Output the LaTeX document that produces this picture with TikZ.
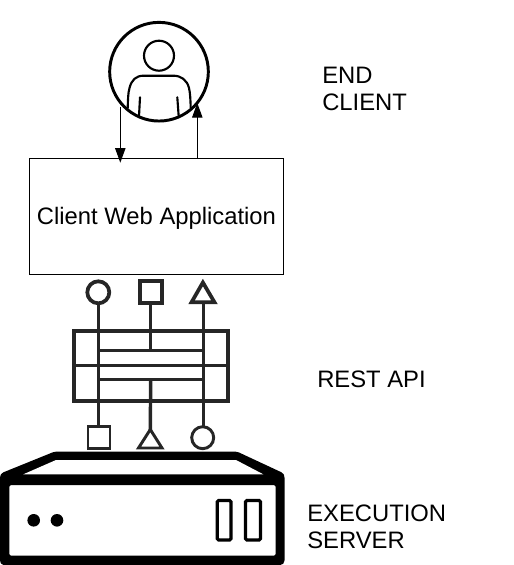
\documentclass[tikz,border=0pt]{standalone}
\usepackage{fontspec}
\setmainfont{Liberation Sans}
\usetikzlibrary{arrows.meta}
\tikzset{
  x=0.75pt,y=-0.75pt,
  label text/.style={font=\fontsize{17.85}{20.25}\selectfont,align=left,inner sep=0pt,text=black},
  person line/.style={draw=black,line width=1.6pt,line cap=round,line join=round},
  thin arrow/.style={draw=black,line width=0.75pt,-{Triangle[length=11pt,width=7.8pt]}},
  api line/.style={draw=black!85,line width=2.6pt},
  api thin/.style={draw=black!85,line width=2.2pt},
  api circle/.style={circle,draw=black!85,line width=2.8pt,fill=white,minimum size=16.5pt,inner sep=0pt},
  api square/.style={rectangle,draw=black!85,line width=2.8pt,fill=white,minimum size=16.5pt,inner sep=0pt},
  api tri/.style={draw=black!85,line width=2.8pt,fill=white,line join=miter},
  lower/.style={line width=2.2pt},
  slot/.style={draw=black,line width=2.4pt,rounded corners=1pt},
}
\begin{document}
\begin{tikzpicture}
\useasboundingbox (0,0) rectangle (514,565);
% end client
\node[circle,draw=black,line width=2.2pt,minimum size=74pt,inner sep=0pt] (client) at (159,71.7) {};
\node[circle,draw=black,line width=1.6pt,minimum size=22.5pt,inner sep=0pt] (head) at (159,55.7) {};
\draw[person line] (127.7,108) .. controls (128,100) and (128,93) .. (129.5,88) .. controls (131.5,80) and (136,75.7) .. (143.5,75.7) -- (173.5,75.7) .. controls (181,75.7) and (187,80) .. (189,88) .. controls (190.2,93) and (190.5,100) .. (190.7,108);
\draw[person line] (140,97.3) -- (139,116.5);
\draw[person line] (177.3,97.3) -- (178.7,116.5);
% web application
\node[rectangle,draw=black,line width=0.75pt,minimum width=190.5pt,minimum height=87pt,inner sep=0pt] (web) at (156.5,216.5) {};
\node[label text,anchor=base] (webtext) at (156.5,224) {Client Web Application};
\coordinate (downstart) at (120.3,107);
\coordinate (downend) at (120.3,162.7);
\coordinate (upstart) at (197.3,158.5);
\coordinate (upend) at (197.3,103);
\draw[thin arrow] (downstart) -- (downend);
\draw[thin arrow] (upstart) -- (upend);
% REST API
\coordinate (l1) at (98.3,350.8);
\coordinate (l2) at (98.3,379.5);
\coordinate (r1) at (203.3,350.8);
\coordinate (r2) at (203.3,379.5);
\coordinate (m1) at (150.7,350.8);
\coordinate (m2) at (150.7,379.5);
\node[rectangle,draw=black!85,line width=3pt,minimum width=115.5pt,minimum height=52.5pt,inner sep=0pt] (api) at (151,365.5) {};
\draw[api line] (api.west) -- (api.east);
\draw[api thin] (l1) -- (r1);
\draw[api thin] (l2) -- (r2);
\node[api circle] (c1) at (98.3,292.3) {};
\node[api square] (s1) at (150.7,292.3) {};
\draw[api tri] (191.5,302.3) -- (202.9,282.5) -- (214.5,302.3) -- cycle;
\node[api square,lower] (s2) at (99,437.7) {};
\draw[api tri,lower] (138.5,448) -- (150.3,429.5) -- (162,448) -- cycle;
\node[api circle,lower] (c2) at (202.7,437.7) {};
\draw[api line] (c1) -- (98.3,426.5);
\draw[api line] (s1) -- (m1);
\draw[api line] (m2) -- (150.3,430);
\draw[api line] (203.3,302) -- (203.3,426.5);
% server
\path[fill=black,even odd rule,rounded corners=1.2pt]
  (0,476) -- (1.7,473) -- (54.3,451.7) -- (237.3,451.7) -- (283,473) -- (284.5,476) -- (284.5,562) -- (282,565) -- (2,565) -- (0,562) -- cycle
  (9.3,485) -- (275.7,485) -- (275.7,555.7) -- (9.3,555.7) -- cycle;
\path[fill=white] (23.3,474.3) -- (56,460) -- (236,460) -- (263.3,474.3) -- cycle;
\fill[black] (33.7,520.3) circle[radius=6.3];
\fill[black] (57,520.3) circle[radius=6.3];
\draw[slot] (217.3,500.5) rectangle (231,540);
\draw[slot] (245.5,500.5) rectangle (260.5,540);
% labels
\node[label text,anchor=west] (endc) at (322,89) {END\\CLIENT};
\node[label text,anchor=base west] (rest) at (317,387) {REST API};
\node[label text,anchor=west] (exec) at (307,527) {EXECUTION\\SERVER};
\end{tikzpicture}
\end{document}
